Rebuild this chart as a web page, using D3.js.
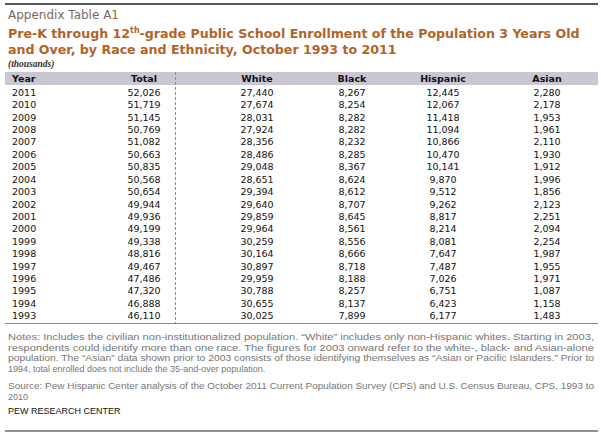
<!DOCTYPE html>
<html><head><meta charset="utf-8">
<script src="https://cdn.jsdelivr.net/npm/d3@7"></script>
<style>body{margin:0;background:#fff}</style>
</head><body>
<script>
var years = [2011,2010,2009,2008,2007,2006,2005,2004,2003,2002,2001,2000,1999,1998,1997,1996,1995,1994,1993];
var total = [52026,51719,51145,50769,51082,50663,50835,50568,50654,49944,49936,49199,49338,48816,49467,47486,47320,46888,46110];
var white = [27440,27674,28031,27924,28356,28486,29048,28651,29394,29640,29859,29964,30259,30164,30897,29959,30788,30655,30025];
var black = [8267,8254,8282,8282,8232,8285,8367,8624,8612,8707,8645,8561,8556,8666,8718,8188,8257,8137,7899];
var hispanic = [12445,12067,11418,11094,10866,10470,10141,9870,9512,9262,8817,8214,8081,7647,7487,7026,6751,6423,6177];
var asian = [2280,2178,1953,1961,2110,1930,1912,1996,1856,2123,2251,2094,2254,1987,1955,1971,1087,1158,1483];
var columns = ["Year","Total","White","Black","Hispanic","Asian"];

var W = 603, H = 434;
var svg = d3.select("body").append("svg").attr("width", W).attr("height", H);
var fmt = d3.format(",");

svg.append("line").attr("x1",5).attr("x2",598).attr("y1",4).attr("y2",4).attr("stroke","#222").attr("stroke-width",1.5);
svg.append("text").attr("x",8).attr("y",19).attr("font-family","DejaVu Sans").attr("font-size",12).attr("fill","#7b6a5a").text("Appendix Table A1");
var title = svg.append("text").attr("font-family","DejaVu Sans").attr("font-weight","bold").attr("font-size",12.6).attr("fill","#b0642a");
var t1 = title.append("tspan").attr("x",8).attr("y",38).text("Pre-K through 12");
t1.append("tspan").attr("font-size",8).attr("dy",-5).text("th");
title.append("tspan").attr("dy",5).text("-grade Public School Enrollment of the Population 3 Years Old");
title.append("tspan").attr("x",8).attr("y",54).text("and Over, by Race and Ethnicity, October 1993 to 2011");
svg.append("text").attr("x",8).attr("y",67).attr("font-family","Liberation Serif").attr("font-style","italic").attr("font-weight","bold").attr("font-size",9.5).attr("fill","#333").text("(thousands)");

var rows = years.map(function(y,i){ return [y, total[i], white[i], black[i], hispanic[i], asian[i]]; });
var y = d3.scaleBand().domain(years).range([86, 322]);
var colX = [12, 144, 257, 352, 443, 547];

svg.append("rect").attr("x",5).attr("y",72).attr("width",593).attr("height",13).attr("fill","#cac6d3");
svg.selectAll("text.head").data(columns).join("text").attr("class","head")
  .attr("x",function(d,i){return colX[i];}).attr("y",82)
  .attr("text-anchor",function(d,i){return i==0?"start":"middle";})
  .attr("font-family","DejaVu Sans").attr("font-weight","bold").attr("font-size",9.5).attr("fill","#111").text(function(d){return d;});

var g = svg.selectAll("g.row").data(rows).join("g").attr("class","row")
  .attr("transform",function(d){return "translate(0,"+(y(d[0])+y.bandwidth()/2+3.5)+")";});
g.selectAll("text").data(function(d){return d;}).join("text")
  .attr("x",function(d,i){return colX[i];})
  .attr("text-anchor",function(d,i){return i==0?"start":"middle";})
  .attr("font-family","DejaVu Sans").attr("font-size",9.5).attr("fill","#111")
  .text(function(d,i){return i==0?d:fmt(d);});

svg.append("line").attr("x1",175.5).attr("x2",175.5).attr("y1",72).attr("y2",323).attr("stroke","#c87a4a").attr("stroke-dasharray","3,2");
svg.append("line").attr("x1",5).attr("x2",598).attr("y1",323.5).attr("y2",323.5).attr("stroke","#888");

var notes = ["Notes: Includes the civilian non-institutionalized population. \u201cWhite\u201d includes only non-Hispanic whites. Starting in 2003,",
 "respondents could identify more than one race. The figures for 2003 onward refer to the white-, black- and Asian-alone",
 "population. The \u201cAsian\u201d data shown prior to 2003 consists of those identifying themselves as \u201cAsian or Pacific Islanders.\u201d Prior to",
 "1994, total enrolled does not include the 35-and-over population."];
var source = ["Source: Pew Hispanic Center analysis of the October 2011 Current Population Survey (CPS) and U.S. Census Bureau, CPS, 1993 to","2010"];
function para(lines, y0){
  svg.append("g").selectAll("text").data(lines).join("text").attr("x",8).attr("y",function(d,i){return y0+i*10.5;})
   .attr("font-family","Liberation Sans").attr("font-size",9).attr("fill","#777")
   .attr("textLength",function(d){return d.length>80?586:null;}).attr("lengthAdjust","spacingAndGlyphs").text(function(d){return d;});
}
para(notes, 340);
para(source, 389);
svg.append("text").attr("x",8).attr("y",414).attr("font-family","Liberation Sans").attr("font-size",9).attr("fill","#111").text("PEW RESEARCH CENTER");
svg.append("line").attr("x1",5).attr("x2",598).attr("y1",431).attr("y2",431).attr("stroke","#222").attr("stroke-width",1.2);
</script>
</body></html>
